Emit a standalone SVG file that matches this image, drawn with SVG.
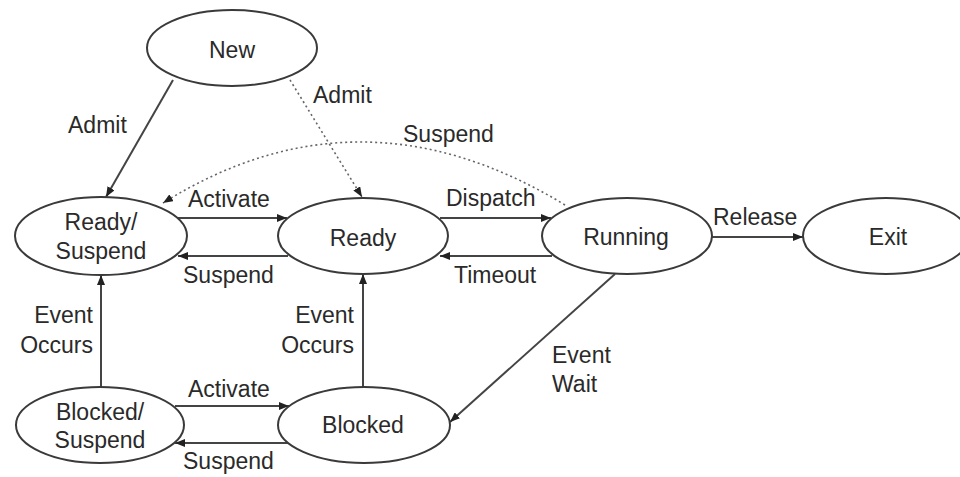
<svg xmlns="http://www.w3.org/2000/svg" width="960" height="477" viewBox="0 0 960 477">
  <style>
    .state ellipse { fill: #ffffff; stroke: #3a3a3a; stroke-width: 2; }
    .state text, .label { font-family: "Liberation Sans", Arial, sans-serif; font-size: 23px; fill: #2a2a2a; }
    .state text { text-anchor: middle; }
    .edge { fill: none; stroke: #444444; stroke-width: 2; marker-end: url(#head); }
    .dotted { stroke: #666666; stroke-width: 1.6; stroke-dasharray: 2 3; }
  </style>
  <defs>
    <marker id="head" viewBox="0 0 10 8" refX="10" refY="4" markerWidth="10" markerHeight="8" markerUnits="userSpaceOnUse" orient="auto">
      <path d="M0,0 L10,4 L0,8 z" fill="#222222"/>
    </marker>
  </defs>

  <!-- transitions -->
  <g id="connectors">
    <line class="edge" x1="173" y1="80" x2="106" y2="197"/>
    <line class="edge dotted" x1="290" y1="80" x2="362" y2="197"/>
    <path class="edge dotted" d="M565,205 Q360,80 163,203"/>
    <line class="edge" x1="177" y1="218" x2="287" y2="218"/>
    <line class="edge" x1="288" y1="256" x2="178" y2="256"/>
    <line class="edge" x1="440" y1="218" x2="551" y2="218"/>
    <line class="edge" x1="552" y1="256" x2="440" y2="256"/>
    <line class="edge" x1="712" y1="237" x2="803" y2="237"/>
    <line class="edge" x1="101" y1="387" x2="101" y2="275"/>
    <line class="edge" x1="363" y1="387" x2="363" y2="274"/>
    <line class="edge" x1="175" y1="406" x2="289" y2="406"/>
    <line class="edge" x1="288" y1="443" x2="175" y2="443"/>
    <line class="edge" x1="615" y1="274" x2="450" y2="422"/>
  </g>

  <!-- transition labels -->
  <g id="labels">
    <text class="label" x="68" y="133">Admit</text>
    <text class="label" x="313" y="103">Admit</text>
    <text class="label" x="403" y="142">Suspend</text>
    <text class="label" x="188" y="207">Activate</text>
    <text class="label" x="183" y="283">Suspend</text>
    <text class="label" x="446" y="206">Dispatch</text>
    <text class="label" x="454" y="283">Timeout</text>
    <text class="label" x="713" y="225">Release</text>
    <text class="label" x="93" y="323" text-anchor="end">Event</text>
    <text class="label" x="93" y="353" text-anchor="end">Occurs</text>
    <text class="label" x="354" y="323" text-anchor="end">Event</text>
    <text class="label" x="354" y="353" text-anchor="end">Occurs</text>
    <text class="label" x="188" y="397">Activate</text>
    <text class="label" x="183" y="469">Suspend</text>
    <text class="label" x="552" y="363">Event</text>
    <text class="label" x="552" y="392">Wait</text>
  </g>

  <!-- states -->
  <g id="new" class="state">
    <ellipse cx="232" cy="48" rx="85" ry="38"/>
    <text x="232" y="58">New</text>
  </g>
  <g id="ready-suspend" class="state">
    <ellipse cx="101" cy="236" rx="86" ry="39"/>
    <text x="101" y="230">Ready/</text>
    <text x="101" y="259">Suspend</text>
  </g>
  <g id="ready" class="state">
    <ellipse cx="363" cy="236" rx="85" ry="38"/>
    <text x="363" y="246">Ready</text>
  </g>
  <g id="running" class="state">
    <ellipse cx="627" cy="236" rx="85" ry="38"/>
    <text x="626" y="245">Running</text>
  </g>
  <g id="exit" class="state">
    <ellipse cx="886" cy="236" rx="83" ry="38"/>
    <text x="888" y="245">Exit</text>
  </g>
  <g id="blocked-suspend" class="state">
    <ellipse cx="100" cy="425" rx="84" ry="38"/>
    <text x="100" y="420">Blocked/</text>
    <text x="100" y="448">Suspend</text>
  </g>
  <g id="blocked" class="state">
    <ellipse cx="364" cy="425" rx="86" ry="38"/>
    <text x="363" y="433">Blocked</text>
  </g>
</svg>
